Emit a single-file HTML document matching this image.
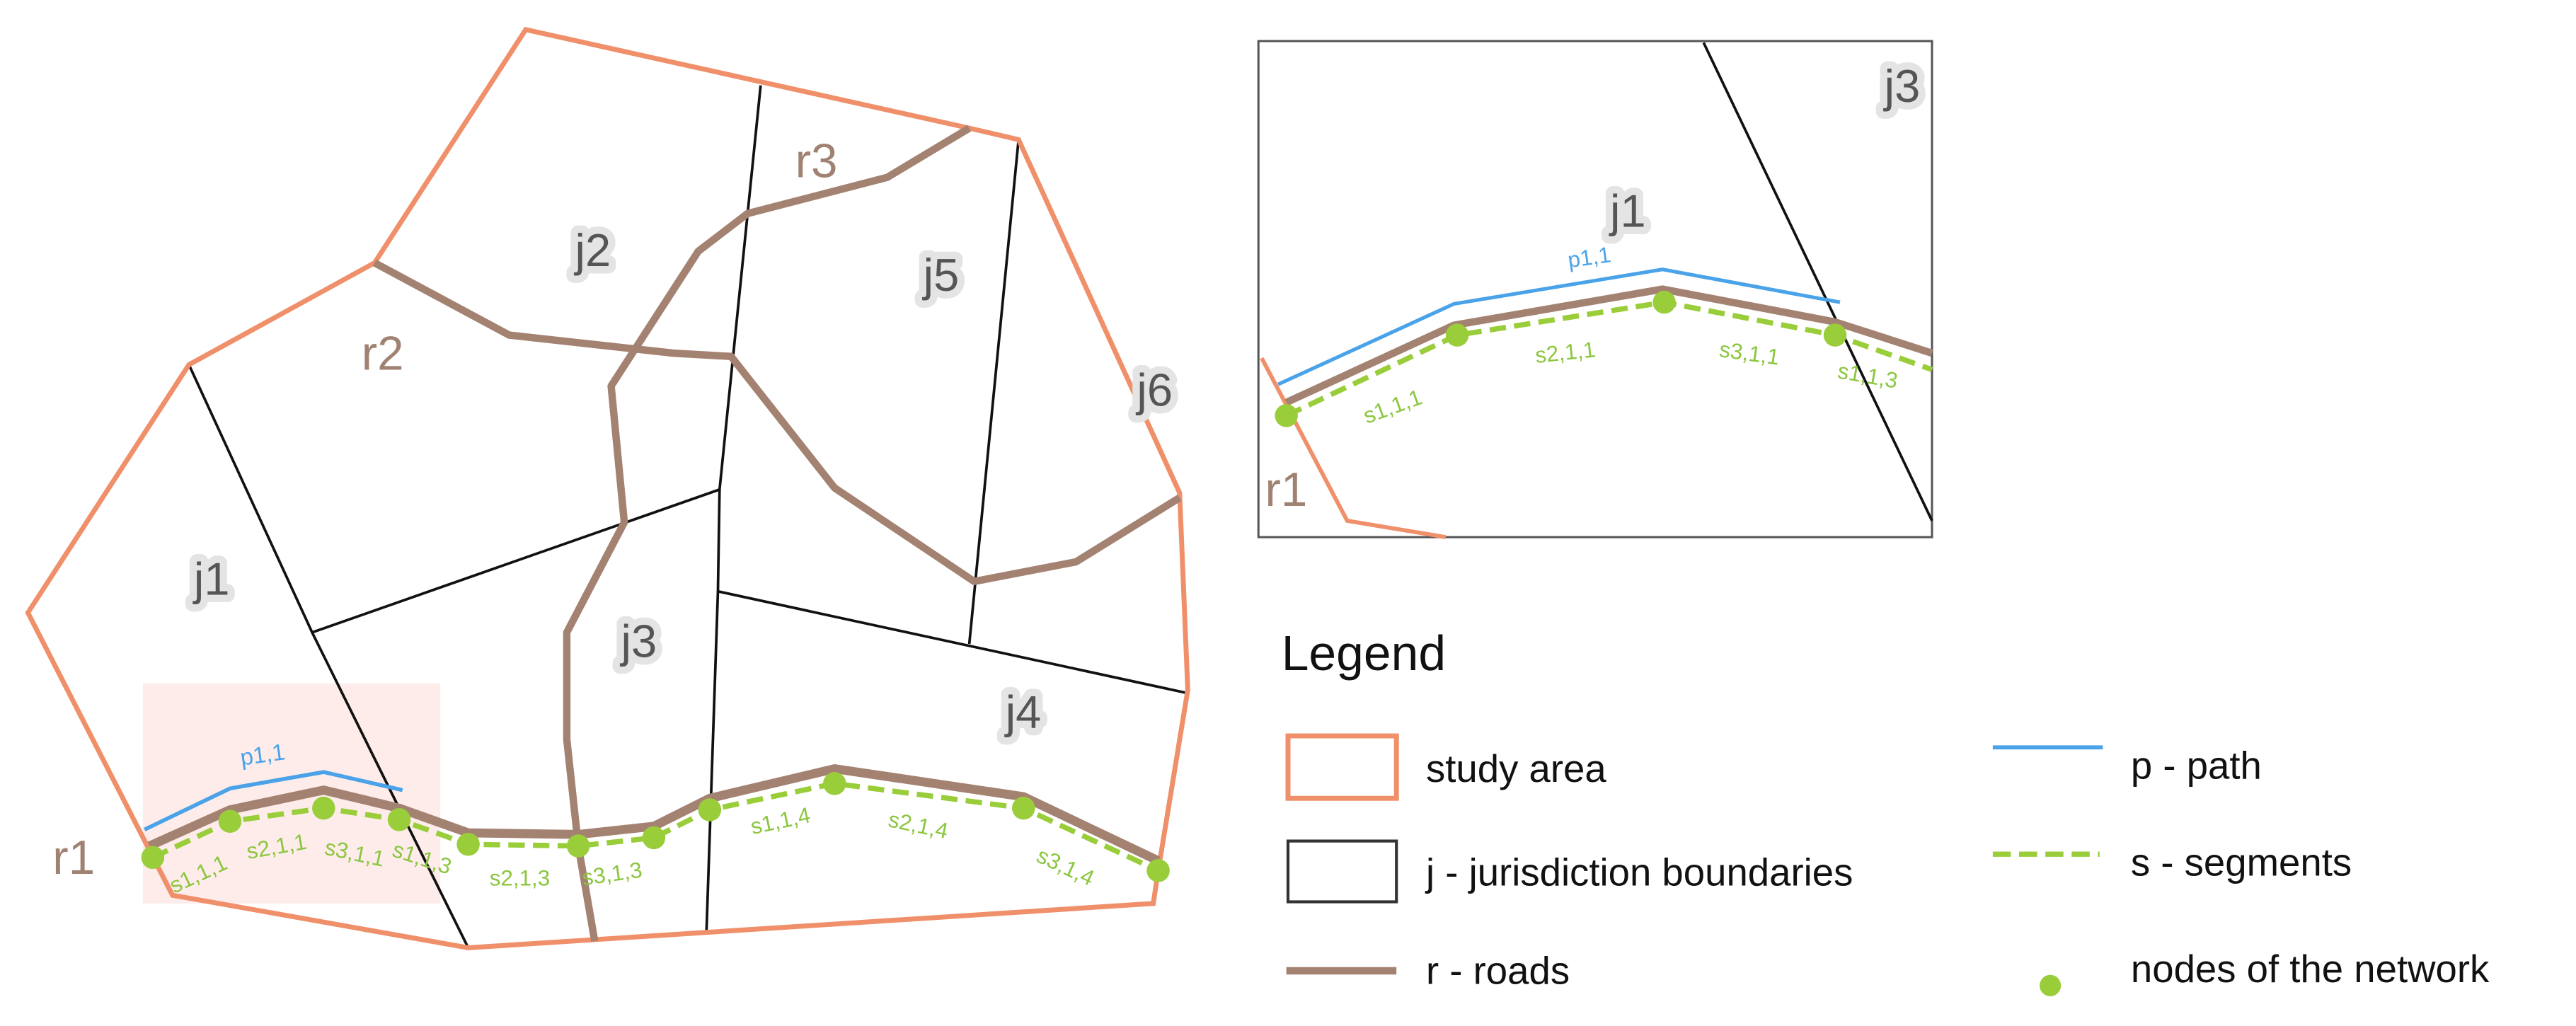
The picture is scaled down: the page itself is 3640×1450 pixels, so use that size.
<!DOCTYPE html>
<html><head><meta charset="utf-8"><style>
html,body{margin:0;padding:0;background:#fff;}
svg{display:block;}
text{font-family:"Liberation Sans",sans-serif;}
.j{font-size:28px;fill:#555;stroke:#e4e4e4;stroke-width:9px;paint-order:stroke;stroke-linejoin:round;}
.r{font-size:29px;fill:#a08272;}
.s{font-size:13.5px;fill:#8cc63f;}
.lg{font-size:23.5px;fill:#111;}
</style></head><body>
<svg width="3640" height="1450" viewBox="0 0 1568 624.6" xmlns="http://www.w3.org/2000/svg">
<rect x="0" y="0" width="1568" height="625" fill="#fff"/>
<rect x="87" y="416" width="181" height="134" fill="#fdecea"/>
<g stroke="#111" stroke-width="1.6" fill="none">
<polyline points="115,222 190,385 285,577"/>
<polyline points="190,385 438,298"/>
<polyline points="463,52 438,298 437,360 430,568"/>
<polyline points="437,360 723,422"/>
<polyline points="620,85 590,392"/>
</g>
<polygon points="320,18 590,78 620,85 718,300 723,420 705,530 702,550 285,577 105,545 17,373 115,222 228,160" fill="none" stroke="#f0906a" stroke-width="3"/>
<g stroke="#a48272" stroke-width="4.5" fill="none" stroke-linejoin="round">
<polyline points="228,160 310,204 410,215 445,217 508,297 593,354 655,342 718,303"/>
<polyline points="590,78 540,108 455,130 425,153 372,235 380,318 345,385 345,450 352,515 362,573"/>
<polyline stroke-width="5.5" points="91,515 140,493 197,481 243,492 285,507 352,508 398,503 432,486 508,468 623,485 705,524"/>
</g>
<polyline points="88,505 140,480 197,470 245,481" fill="none" stroke="#4aa3e8" stroke-width="2.4"/>
<polyline points="93,522 140,500 197,492 243,499 285,514 352,515 398,510 432,493 508,477 623,492 705,530" fill="none" stroke="#9acd3a" stroke-width="3.2" stroke-dasharray="10,5"/>
<g fill="#9acd3a">
<circle cx="93" cy="522" r="7"/><circle cx="140" cy="500" r="7"/><circle cx="197" cy="492" r="7"/><circle cx="243" cy="499" r="7"/><circle cx="285" cy="514" r="7"/><circle cx="352" cy="515" r="7"/><circle cx="398" cy="510" r="7"/><circle cx="432" cy="493" r="7"/><circle cx="508" cy="477" r="7"/><circle cx="623" cy="492" r="7"/><circle cx="705" cy="530" r="7"/>
</g>
<text x="147" y="466" font-size="14" fill="#4aa3e8" transform="rotate(-8 147 466)">p1,1</text>
<g class="s">
<text x="106" y="544" transform="rotate(-25 106 544)">s1,1,1</text>
<text x="151" y="523" transform="rotate(-10 151 523)">s2,1,1</text>
<text x="197" y="520" transform="rotate(12 197 520)">s3,1,1</text>
<text x="238" y="521" transform="rotate(18 238 521)">s1,1,3</text>
<text x="298" y="539">s2,1,3</text>
<text x="355" y="539" transform="rotate(-8 355 539)">s3,1,3</text>
<text x="458" y="508" transform="rotate(-12 458 508)">s1,1,4</text>
<text x="540" y="503" transform="rotate(12 540 503)">s2,1,4</text>
<text x="630" y="524" transform="rotate(25 630 524)">s3,1,4</text>
</g>
<g class="j">
<text x="118" y="362">j1</text><text x="350" y="162">j2</text><text x="378" y="400">j3</text><text x="612" y="443">j4</text><text x="562" y="177">j5</text><text x="692" y="247">j6</text>
</g>
<g class="r"><text x="32" y="532">r1</text><text x="220" y="225">r2</text><text x="484" y="108">r3</text></g>
<rect x="766" y="25" width="410" height="302" fill="none" stroke="#555" stroke-width="1.3"/>
<line x1="1037" y1="26" x2="1176" y2="317" stroke="#111" stroke-width="1.6"/>
<polyline points="768,218 820,317 880,327" fill="none" stroke="#f0906a" stroke-width="2.5"/>
<polyline points="778,234 885,185 1012,164 1120,184" fill="none" stroke="#4aa3e8" stroke-width="2.2"/>
<polyline points="783,245 885,198 1012,176 1117,196 1176,215" fill="none" stroke="#a48272" stroke-width="4.5"/>
<polyline points="783,253 887,204 1013,184 1117,204 1176,225" fill="none" stroke="#9acd3a" stroke-width="3.2" stroke-dasharray="10,5"/>
<g fill="#9acd3a"><circle cx="783" cy="253" r="7"/><circle cx="887" cy="204" r="7"/><circle cx="1013" cy="184" r="7"/><circle cx="1117" cy="204" r="7"/></g>
<text x="955" y="163" font-size="13.5" fill="#4aa3e8" transform="rotate(-8 955 163)">p1,1</text>
<g class="s">
<text x="832" y="258" transform="rotate(-20 832 258)">s1,1,1</text>
<text x="935" y="221" transform="rotate(-6 935 221)">s2,1,1</text>
<text x="1046" y="217" transform="rotate(8 1046 217)">s3,1,1</text>
<text x="1118" y="230" transform="rotate(10 1118 230)">s1,1,3</text>
</g>
<g class="j"><text x="980" y="138">j1</text><text x="1147" y="62">j3</text></g>
<text class="r" x="770" y="308">r1</text>
<text x="780" y="408" font-size="30" fill="#111">Legend</text>
<rect x="784" y="448" width="66" height="38" fill="none" stroke="#f0906a" stroke-width="3"/>
<text class="lg" x="868" y="476">study area</text>
<rect x="784" y="512" width="66" height="37" fill="none" stroke="#333" stroke-width="1.8"/>
<text class="lg" x="868" y="539">j - jurisdiction boundaries</text>
<line x1="783" y1="591" x2="850" y2="591" stroke="#a48272" stroke-width="4.5"/>
<text class="lg" x="868" y="599">r - roads</text>
<line x1="1213" y1="455" x2="1280" y2="455" stroke="#4aa3e8" stroke-width="2.5"/>
<text class="lg" x="1297" y="474">p - path</text>
<line x1="1213" y1="520" x2="1278" y2="520" stroke="#9acd3a" stroke-width="3.2" stroke-dasharray="11,5"/>
<text class="lg" x="1297" y="533">s - segments</text>
<circle cx="1248" cy="600" r="6.5" fill="#9acd3a"/>
<text class="lg" x="1297" y="598">nodes of the network</text>
</svg>
</body></html>
